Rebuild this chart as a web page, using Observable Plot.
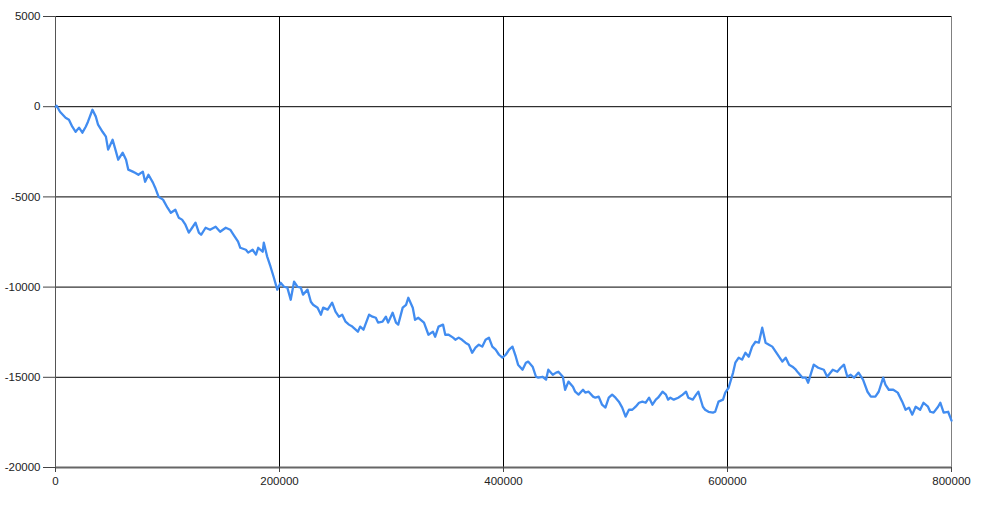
<!DOCTYPE html>
<html><head><meta charset="utf-8">
<script src="https://cdn.jsdelivr.net/npm/d3@7"></script>
<script src="https://cdn.jsdelivr.net/npm/@observablehq/plot@0.6"></script>
<style>html,body{margin:0;padding:0;background:#fff}#chart svg{display:block}</style>
</head><body><div id="chart"></div>
<script>
const xValues = [0,1000,4000,9000,12000,15000,18000,21000,24000,27000,29000,33000,36000,38000,42000,45000,47000,51000,54000,56000,60000,63000,65000,69000,71000,74000,78000,80000,83000,87000,89000,92000,96000,100000,103000,107000,110000,113000,116000,119000,122000,125000,128000,
130000,134000,138000,143000,147000,152000,156000,159000,163000,165000,170000,172000,176000,179000,181000,185000,186000,189000,192000,195000,198000,201000,204000,207000,210000,213000,216000,219000,221000,225000,228000,230000,234000,237000,239000,243000,247000,250000,253000,256000,259000,262000,265000,
270000,272000,275000,280000,283000,286000,288000,292000,295000,297000,301000,304000,306000,310000,313000,315000,319000,321000,324000,329000,333000,337000,339000,342000,346000,348000,351000,355000,357000,360000,363000,366000,369000,372000,375000,378000,381000,384000,387000,390000,393000,396000,399000,
402000,405000,408000,411000,413000,417000,420000,422000,426000,429000,431000,435000,438000,440000,444000,447000,449000,453000,455000,458000,462000,464000,467000,471000,473000,476000,480000,482000,485000,488000,491000,494000,497000,500000,503000,506000,509000,512000,515000,518000,521000,524000,527000,530000,533000,536000,538000,542000,545000,
547000,549000,552000,556000,560000,563000,565000,569000,572000,574000,578000,580000,583000,587000,589000,592000,596000,598000,601000,605000,607000,610000,613000,616000,619000,622000,625000,628000,631000,634000,637000,640000,643000,646000,649000,652000,655000,658000,661000,663000,667000,670000,672000,
677000,681000,686000,689000,694000,698000,701000,704000,707000,710000,713000,717000,721000,725000,728000,732000,735000,739000,741000,744000,748000,752000,756000,759000,762000,765000,768000,772000,775000,779000,781000,784000,788000,790000,793000,797000,799000,800000];
const yValues = [0,50,-280,-610,-720,-1110,-1390,-1160,-1440,-1110,-830,-170,-550,-1000,-1390,-1660,-2380,-1830,-2490,-2940,-2550,-2940,-3490,-3600,-3660,-3770,-3600,-4160,-3770,-4210,-4490,-4990,-5150,-5600,-5880,-5710,-6150,-6260,-6540,-6980,-6710,-6430,-6980,
-7100,-6710,-6820,-6650,-6930,-6710,-6820,-7100,-7480,-7820,-7930,-8090,-7930,-8200,-7820,-8040,-7540,-8310,-8870,-9480,-10140,-9760,-9980,-10030,-10700,-9700,-9980,-10030,-10420,-10140,-10810,-10980,-11140,-11530,-11140,-11250,-10860,-11360,-11640,-11530,-11920,-12080,-12190,
-12470,-12190,-12360,-11530,-11640,-11700,-11970,-11920,-11640,-11970,-11420,-11970,-12080,-11140,-10980,-10590,-11140,-11810,-11700,-11970,-12640,-12470,-12750,-12190,-12080,-12640,-12640,-12800,-12920,-12800,-12920,-13080,-13190,-13640,-13360,-13190,-13300,-12920,-12800,-13300,-13470,-13750,-13910,
-13750,-13470,-13300,-13860,-14300,-14580,-14190,-14130,-14410,-14970,-15020,-14970,-15130,-14580,-14860,-14740,-14690,-14970,-15690,-15240,-15520,-15800,-15960,-15690,-15850,-15800,-16070,-16130,-16070,-16520,-16680,-16130,-15960,-16130,-16350,-16680,-17180,-16800,-16800,-16630,-16410,-16350,-16410,-16130,-16520,-16240,-16130,-15800,-15960,
-16240,-16130,-16240,-16130,-15960,-15800,-16130,-16240,-15960,-15800,-16630,-16800,-16910,-16960,-16910,-16350,-16240,-15850,-15580,-14740,-14190,-13910,-14020,-13640,-13860,-13300,-13030,-13080,-12250,-13080,-13190,-13300,-13580,-13860,-14130,-13910,-14300,-14410,-14580,-14740,-15020,-15020,-15300,
-14300,-14470,-14580,-14970,-14580,-14690,-14470,-14300,-14970,-14860,-15020,-14740,-15130,-15800,-16070,-16070,-15800,-15020,-15410,-15690,-15690,-15850,-16350,-16800,-16680,-17070,-16630,-16800,-16410,-16630,-16910,-16960,-16630,-16410,-16960,-16910,-17240,-17400];
const xTicks = [0, 200000, 400000, 600000, 800000];
const yTicks = [5000, 0, -5000, -10000, -15000, -20000];

const data = xValues.map((x, i) => ({x, y: yValues[i]}));

const chart = Plot.plot({
  width: 1000, height: 514,
  marginLeft: 55, marginRight: 49, marginTop: 16, marginBottom: 47,
  style: {fontFamily: "'Liberation Sans', Arial, sans-serif", fontSize: "11.5px", color: "#222", background: "#fff"},
  x: {domain: [0, 800000], label: null},
  y: {domain: [-20000, 5000], label: null},
  marks: [
    Plot.ruleY(yTicks.slice(0, 5), {stroke: "#000", strokeWidth: 1}),
    Plot.ruleX(xTicks.slice(1, 4), {stroke: "#000", strokeWidth: 1}),
    Plot.ruleX([800000], {stroke: "#808080", strokeWidth: 1}),
    Plot.ruleX([0], {stroke: "#555", strokeWidth: 1}),
    Plot.ruleY([-20000], {stroke: "#666", strokeWidth: 2}),
    Plot.line(data, {x: "x", y: "y", stroke: "#418CF0", strokeWidth: 2.3, strokeLinejoin: "round"}),
    Plot.axisX({ticks: xTicks, tickFormat: d => String(d), tickSize: 5, tickPadding: 4, label: null, stroke: "#444"}),
    Plot.axisY({ticks: yTicks, tickFormat: d => String(d), tickSize: 12, tickPadding: 3, label: null, stroke: "#444"})
  ]
});
document.getElementById("chart").append(chart);
</script>
</body></html>
